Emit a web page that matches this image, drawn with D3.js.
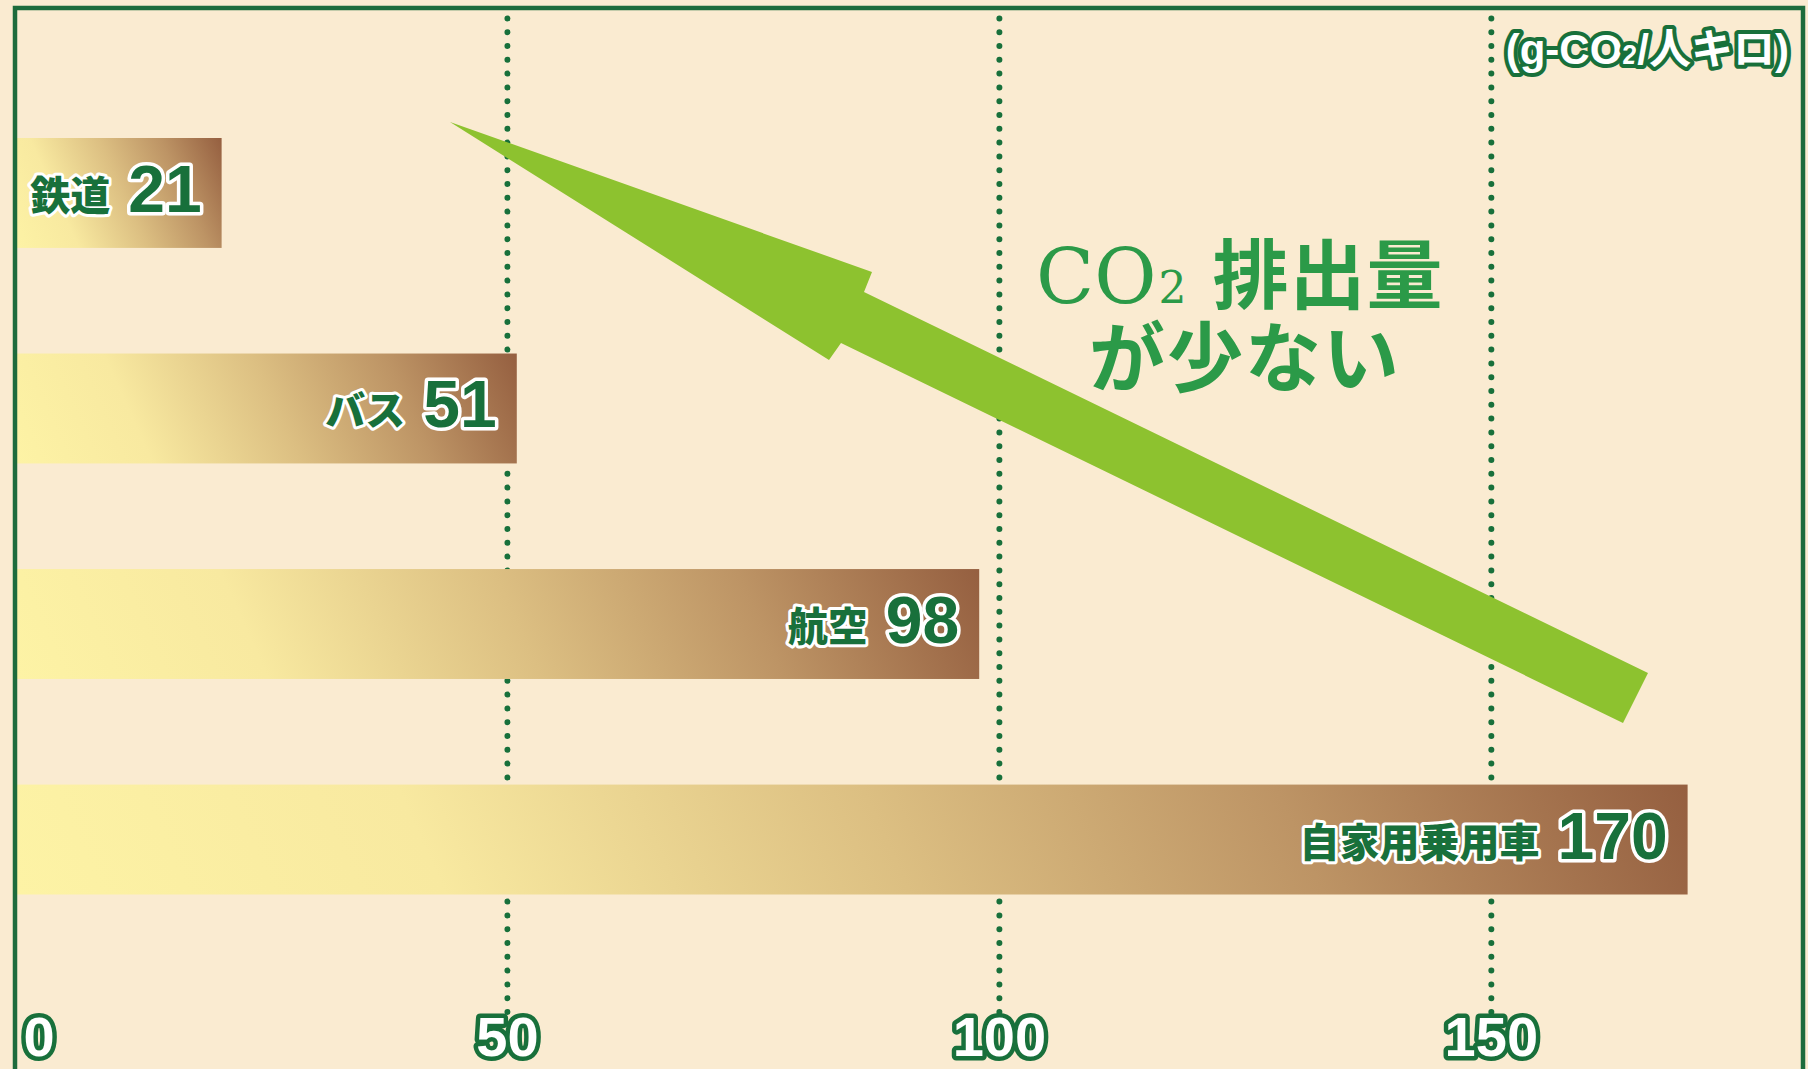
<!DOCTYPE html>
<html lang="ja">
<head>
<meta charset="utf-8">
<title>CO2排出量の比較</title>
<script src="https://cdn.jsdelivr.net/npm/d3@7"></script>
<style>
  body { margin: 0; background: #faebd1; }
  svg { display: block; }
</style>
</head>
<body>
<svg id="chart"></svg>
<script>
"use strict";
// data
const modes = ['鉄道', 'バス', '航空', '自家用乗用車'];
const emissions = [21, 51, 98, 170];
const tickValues = [0, 50, 100, 150];
const unitParts = ['(g-CO', '2', '/人キロ)'];
const noteLine1 = ['CO', '2', '排出量'];
const noteLine2 = 'が少ない';

const WIDTH = 1808, HEIGHT = 1069;
const GREEN_DARK = '#18703b';
const GREEN_NOTE = '#2b9a48';
const ARROW = '#8dc22f';
const NUM_FONT = '"Liberation Sans Narrow", "Liberation Sans", "Noto Sans CJK JP", sans-serif';
const JP_FONT = '"Noto Sans CJK JP", "Noto Sans", sans-serif';
const SERIF_FONT = '"DejaVu Serif", "Liberation Serif", serif';

const svg = d3.select('#chart')
  .attr('width', WIDTH)
  .attr('height', HEIGHT)
  .attr('viewBox', `0 0 ${WIDTH} ${HEIGHT}`);

svg.append('rect')
  .attr('width', WIDTH)
  .attr('height', HEIGHT)
  .attr('fill', '#faebd1');

// Scales
const x = d3.scaleLinear().domain([0, 180]).range([15, 1786]);
const y = d3.scaleBand()
  .domain(modes)
  .range([138, 894.5])
  .paddingInner(0.49)
  .paddingOuter(0);

const gridTop = 12, gridBottom = 1012;

// Axis with dotted grid lines (drawn first so the bars cover them)
const axisG = svg.append('g')
  .attr('transform', `translate(0,${gridBottom})`)
  .call(d3.axisBottom(x)
    .tickValues(tickValues)
    .tickSizeInner(-(gridBottom - gridTop))
    .tickSizeOuter(0));
axisG.select('.domain').remove();
axisG.selectAll('.tick line')
  .attr('stroke', GREEN_DARK)
  .attr('stroke-width', 6)
  .attr('stroke-linecap', 'round')
  .attr('stroke-dasharray', '0 13.8')
  .attr('display', d => d === 0 ? 'none' : null);
axisG.selectAll('.tick text')
  .attr('font-family', NUM_FONT)
  .attr('font-weight', 'bold')
  .attr('font-size', 56)
  .attr('dy', null)
  .attr('y', 44)
  .attr('fill', '#ffffff')
  .attr('stroke', GREEN_DARK)
  .attr('stroke-width', 9)
  .attr('stroke-linejoin', 'round')
  .attr('paint-order', 'stroke')
  .attr('text-anchor', d => d === 0 ? 'start' : 'middle')
  .attr('x', d => d === 0 ? 8 : 0);

// Bar gradients: pale yellow at the lower left to brown at the upper right
const defs = svg.append('defs');
const rows = modes.map((m, i) => ({ mode: m, value: emissions[i] }));
rows.forEach((d, i) => {
  const x0 = x(0), x1 = x(d.value);
  const yb = y(d.mode) + y.bandwidth(), h = y.bandwidth();
  const w = x1 - x0;
  const ux = 1 / Math.hypot(1, 0.45), uy = -0.45 / Math.hypot(1, 0.45);
  const t = w * ux + (-h) * uy;
  const grad = defs.append('linearGradient')
    .attr('id', `bar-grad-${i}`)
    .attr('gradientUnits', 'userSpaceOnUse')
    .attr('x1', x0).attr('y1', yb)
    .attr('x2', x0 + t * ux).attr('y2', yb + t * uy);
  [[0, '#fdf3a5'], [0.25, '#f8e9a0'], [0.52, '#dcbf82'], [0.76, '#bd9465'], [1, '#955f40']]
    .forEach(([o, c]) => grad.append('stop').attr('offset', o).attr('stop-color', c));
});

svg.append('g')
  .selectAll('rect')
  .data(rows)
  .join('rect')
  .attr('x', x(0))
  .attr('y', d => y(d.mode))
  .attr('width', d => x(d.value) - x(0))
  .attr('height', y.bandwidth())
  .attr('fill', (d, i) => `url(#bar-grad-${i})`);

// Bar labels: category name + value, right aligned inside the bar
const labelG = svg.append('g');
rows.forEach(d => {
  const baseline = y(d.mode) + y.bandwidth() / 2 + 19;
  const num = labelG.append('text')
    .attr('x', x(d.value) - 20)
    .attr('y', baseline)
    .attr('text-anchor', 'end')
    .attr('font-family', NUM_FONT)
    .attr('font-weight', 'bold')
    .attr('font-size', 66)
    .attr('fill', GREEN_DARK)
    .attr('stroke', '#ffffff')
    .attr('stroke-width', 7)
    .attr('stroke-linejoin', 'round')
    .attr('paint-order', 'stroke')
    .text(d.value);
  const numW = num.node().getComputedTextLength();
  labelG.append('text')
    .attr('x', x(d.value) - 20 - numW - 18)
    .attr('y', baseline - 2)
    .attr('text-anchor', 'end')
    .attr('font-family', JP_FONT)
    .attr('font-weight', 900)
    .attr('font-size', 40)
    .attr('fill', GREEN_DARK)
    .attr('stroke', '#ffffff')
    .attr('stroke-width', 6)
    .attr('stroke-linejoin', 'round')
    .attr('paint-order', 'stroke')
    .text(d.mode);
});

// Big green arrow pointing to the low-emission end
const arrowPts = [[450, 122], [872, 272], [864, 292], [1648, 673], [1623, 723], [841, 343], [829, 360]];
svg.append('path')
  .attr('d', d3.line()(arrowPts) + 'Z')
  .attr('fill', ARROW);

// Annotation text: one text element, two lines as tspans
const note = svg.append('text')
  .attr('fill', GREEN_NOTE)
  .attr('x', 1036)
  .attr('y', 303);
note.append('tspan')
  .attr('font-family', SERIF_FONT)
  .attr('font-size', 76)
  .text(noteLine1[0]);
note.append('tspan')
  .attr('font-family', SERIF_FONT)
  .attr('font-size', 44)
  .attr('dx', 2)
  .text(noteLine1[1]);
note.append('tspan')
  .attr('font-family', JP_FONT)
  .attr('font-weight', 700)
  .attr('font-size', 76)
  .attr('dx', 26)
  .attr('letter-spacing', 1)
  .text(noteLine1[2]);
note.append('tspan')
  .attr('x', 1245)
  .attr('y', 386)
  .attr('text-anchor', 'middle')
  .attr('font-family', JP_FONT)
  .attr('font-weight', 700)
  .attr('font-size', 76)
  .attr('letter-spacing', 2)
  .text(noteLine2);

// Unit label, top right
const unit = svg.append('text')
  .attr('x', 1789)
  .attr('y', 64)
  .attr('text-anchor', 'end')
  .attr('font-family', NUM_FONT)
  .attr('font-weight', 'bold')
  .attr('font-size', 42)
  .attr('fill', '#ffffff')
  .attr('stroke', GREEN_DARK)
  .attr('stroke-width', 8)
  .attr('stroke-linejoin', 'round')
  .attr('paint-order', 'stroke');
unit.append('tspan').text(unitParts[0]);
unit.append('tspan').attr('font-size', 27).text(unitParts[1]);
unit.append('tspan').text(unitParts[2]);

// Frame: left axis line, top and right border
svg.append('path')
  .attr('d', `M${x(0)},${HEIGHT} V8 H1803 V${HEIGHT}`)
  .attr('fill', 'none')
  .attr('stroke', '#1d6b3c')
  .attr('stroke-width', 4.5);
</script>
</body>
</html>
